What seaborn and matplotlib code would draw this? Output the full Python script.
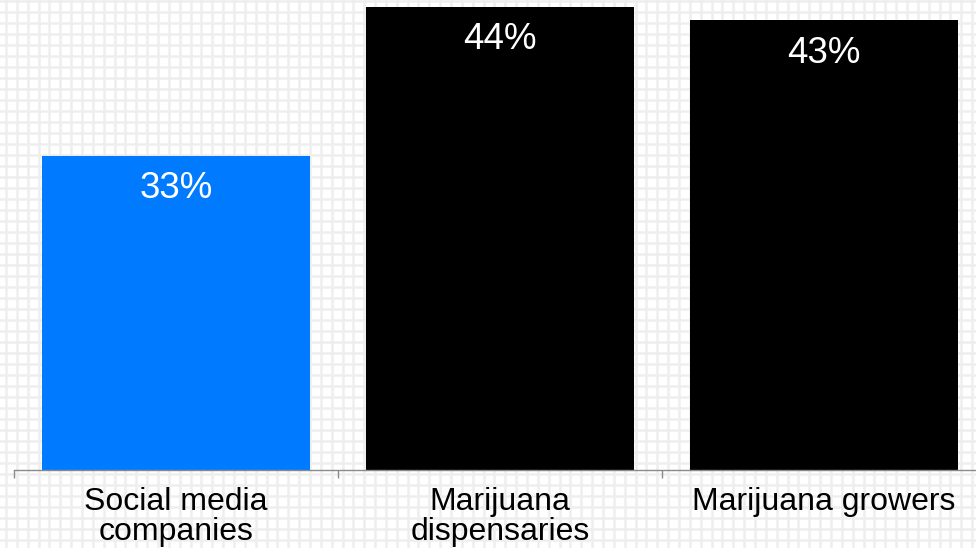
import numpy as np
import pandas as pd
import seaborn as sns
import matplotlib.pyplot as plt
from matplotlib.ticker import FixedLocator

# data
categories = ['Social media\ncompanies', 'Marijuana\ndispensaries', 'Marijuana growers']
values = [33, 44, 43]
value_labels = ['33%', '44%', '43%']
bar_colors = ['#007AFF', '#000000', '#000000']

df = pd.DataFrame({'category': categories, 'value': values})

plt.rcParams['font.family'] = ['Liberation Sans', 'DejaVu Sans']

fig = plt.figure(figsize=(9.76, 5.48), dpi=100)

# graph-paper background
bg = fig.add_axes([0, 0, 1, 1], zorder=0)
bg.set_xlim(0, 976)
bg.set_ylim(548, 0)
bg.set_xticks(np.arange(6, 976, 10.855))
bg.set_yticks(np.arange(1, 548, 11))
bg.grid(True, color='#eeeeee', linewidth=1.8)
bg.tick_params(length=0, labelbottom=False, labelleft=False)
for s in bg.spines.values():
    s.set_visible(False)

# bar chart
ax = fig.add_axes([14 / 976, 78 / 548, 972 / 976, 470 / 548], zorder=1)
ax.set_facecolor('none')
sns.barplot(data=df, x='category', y='value', hue='category',
            palette=dict(zip(categories, bar_colors)), width=0.825,
            legend=False, saturation=1, ax=ax)
ax.set_xlim(-0.5, 2.5)
ax.set_ylim(9.8, 44.5)

for cont, lab in zip(ax.containers, value_labels):
    txts = ax.bar_label(cont, labels=[lab], padding=-11, color='white', fontsize=26.5)
    for t in txts:
        t.set_va('top')

ax.set_xlabel('')
ax.set_ylabel('')
ax.set_yticks([])
for side in ['left', 'right', 'top']:
    ax.spines[side].set_visible(False)
ax.spines['bottom'].set_color('#8a8a8a')
ax.spines['bottom'].set_linewidth(1)

ax.xaxis.set_minor_locator(FixedLocator([-0.5, 0.5, 1.5, 2.5]))
ax.tick_params(axis='x', which='minor', length=6, color='#8a8a8a', width=1)
ax.tick_params(axis='x', which='major', length=0, pad=12.5, labelsize=23)
for t in ax.get_xticklabels():
    t.set_linespacing(1.0)

fig.savefig('out.png', dpi=100)
